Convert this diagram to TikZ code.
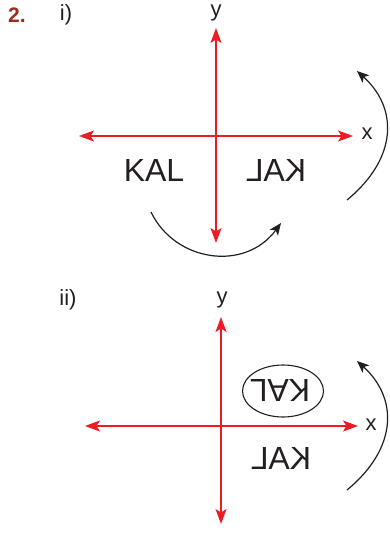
\documentclass[tikz,border=0pt]{standalone}
\usepackage{fontspec}
\setmainfont{Liberation Sans}
\usetikzlibrary{arrows.meta}
\definecolor{axred}{HTML}{EC1C24}
\definecolor{numbrown}{HTML}{9E2A1B}
\definecolor{ink}{HTML}{231F20}
\begin{document}
\begin{tikzpicture}[x=1pt,y=-1pt,
  axis/.style={axred,line width=1.4pt,{Stealth[length=15pt,width=11pt,inset=3.5pt]}-{Stealth[length=15pt,width=11pt,inset=3.5pt]}},
  turn/.style={ink,line width=1.2pt,-{Stealth[length=12pt,width=10pt,inset=3pt]}},
  lbl/.style={inner sep=0pt,font=\fontsize{22}{22}\selectfont,text=ink},
  word/.style={inner sep=0pt,font=\fontsize{32}{32}\selectfont,text=ink}]
\useasboundingbox (0,0) rectangle (390,535);
% labels
\node[inner sep=0pt,font=\bfseries\fontsize{21}{21}\selectfont,text=numbrown] (num) at (17,15) {2.};
\node[lbl] (pi) at (66,15) {i)};
\node[lbl] (pii) at (68,300) {ii)};
% part i
\coordinate (iT) at (216,28);
\coordinate (iB) at (216,243);
\coordinate (iL) at (79,136);
\coordinate (iR) at (353,136);
\draw[axis] (iT) -- (iB);
\draw[axis] (iL) -- (iR);
\node[lbl] (iy) at (216,13) {y};
\node[lbl] (ix) at (367,134) {x};
\node[word] (ik) at (154,170) {KAL};
\node[word,xscale=-1] (ikm) at (276,170) {KAL};
\coordinate (ia1) at (347,200);
\coordinate (ia2) at (357,71);
\draw[turn] (ia1) .. controls (398,158) and (398,108) .. (ia2);
\coordinate (ib1) at (151,212);
\coordinate (ib2) at (281,223);
\draw[turn] (ib1) .. controls (175,262) and (245,272) .. (ib2);
% part ii
\coordinate (jT) at (221,317);
\coordinate (jB) at (221,524);
\coordinate (jL) at (85,426);
\coordinate (jR) at (358,426);
\draw[axis] (jT) -- (jB);
\draw[axis] (jL) -- (jR);
\node[lbl] (jy) at (222,300) {y};
\node[lbl] (jx) at (371,425) {x};
\draw[ink,line width=1.1pt] (283,391) ellipse [x radius=40.5, y radius=26];
\node[word,rotate=180] (jkr) at (280,391) {KAL};
\node[word,xscale=-1] (jkm) at (281,458) {KAL};
\coordinate (ja1) at (347,490);
\coordinate (ja2) at (357,361);
\draw[turn] (ja1) .. controls (398,448) and (398,398) .. (ja2);
\end{tikzpicture}
\end{document}
